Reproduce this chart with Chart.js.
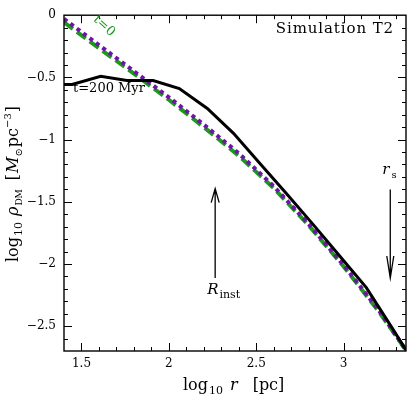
<!DOCTYPE html>
<html><head><meta charset="utf-8">
<script src="https://cdn.jsdelivr.net/npm/chart.js@4/dist/chart.umd.min.js"></script>
<style>html,body{margin:0;padding:0;background:#fff}canvas{display:block}</style>
</head><body><canvas id="c" width="415" height="415"></canvas>
<script>
// ---- data ----
const xTicks = [1.5, 2, 2.5, 3];
const yTicks = [0, -0.5, -1, -1.5, -2, -2.5];
const logRInit = [1.40, 1.60, 1.80, 2.00, 2.20, 2.40, 2.60, 2.80, 3.00, 3.20, 3.36];
const logRhoInitDashed = [-0.057, -0.265, -0.47, -0.68, -0.90, -1.13, -1.39, -1.69, -2.02, -2.38, -2.70];
const logRhoInitDotted = [-0.03, -0.24, -0.45, -0.66, -0.88, -1.11, -1.375, -1.68, -2.01, -2.37, -2.70];
const logR200 = [1.40, 1.446, 1.61, 1.76, 1.91, 2.06, 2.22, 2.37, 2.52, 2.67, 2.83, 2.98, 3.13, 3.28, 3.36];
const logRho200 = [-0.557, -0.557, -0.491, -0.525, -0.525, -0.59, -0.75, -0.95, -1.19, -1.43, -1.69, -1.94, -2.19, -2.52, -2.70];
const arrowRinst = [2.265, -2.113, -1.394]; // x, tail y, tip y
const arrowRs = [3.267, -1.402, -2.113];
const xRange = [1.4, 3.357];
const yRange = [-2.7, 0];

const SERIF = '"DejaVu Serif", serif';
const GREEN = '#1c9a1c';
const PURPLE = '#6e14a6';

function pts(xs, ys) { return xs.map((x, i) => ({x: x, y: ys[i]})); }
function fmt(v) { return v === 0 ? '0' : String(v).replace('-', '\u2212'); }

function rich(ctx, segs, x, y) {
  let cx = x;
  for (const s of segs) {
    ctx.font = s.f;
    cx += (s.pre || 0);
    ctx.fillText(s.t, cx, y + (s.dy || 0));
    cx += ctx.measureText(s.t).width;
  }
  return cx - x;
}

const decor = {
  id: 'decor',
  afterDatasetsDraw(chart) {
    const ctx = chart.ctx, a = chart.chartArea;
    const xs = chart.scales.x, ys = chart.scales.y;
    ctx.save();
    // frame
    ctx.strokeStyle = '#000'; ctx.lineWidth = 1.4;
    ctx.strokeRect(a.left, a.top, a.right - a.left, a.bottom - a.top);
    // ticks
    ctx.lineWidth = 1;
    ctx.beginPath();
    for (let k = 14; k <= 33; k++) {
      const v = k / 10; if (v <= xRange[0] || v >= xRange[1]) continue;
      const major = xTicks.some(t => Math.abs(t - v) < 1e-6);
      const L = major ? 8 : 4;
      const p = Math.round(xs.getPixelForValue(v)) + 0.5;
      ctx.moveTo(p, a.bottom); ctx.lineTo(p, a.bottom - L);
      ctx.moveTo(p, a.top); ctx.lineTo(p, a.top + L);
    }
    for (let k = -27; k <= 0; k++) {
      const v = k / 10; if (v <= yRange[0] || v >= yRange[1]) continue;
      const major = yTicks.some(t => Math.abs(t - v) < 1e-6);
      const L = major ? 8 : 4;
      const p = Math.round(ys.getPixelForValue(v)) + 0.5;
      ctx.moveTo(a.left, p); ctx.lineTo(a.left + L, p);
      ctx.moveTo(a.right, p); ctx.lineTo(a.right - L, p);
    }
    ctx.stroke();
    // arrows
    function arrow(x, y0, y1, hl, hw) {
      const px = xs.getPixelForValue(x), p0 = ys.getPixelForValue(y0), p1 = ys.getPixelForValue(y1);
      const d = p1 < p0 ? 1 : -1;
      ctx.beginPath();
      ctx.moveTo(px, p0); ctx.lineTo(px, p1);
      ctx.moveTo(px - hw, p1 + d * hl); ctx.lineTo(px, p1); ctx.lineTo(px + hw, p1 + d * hl);
      ctx.stroke();
    }
    ctx.lineWidth = 1.3;
    arrow(arrowRinst[0], arrowRinst[1], arrowRinst[2], 14, 4);
    arrow(arrowRs[0], arrowRs[1], arrowRs[2], 22, 3.5);
    // annotation texts
    ctx.fillStyle = '#000';
    ctx.textBaseline = 'alphabetic';
    ctx.textAlign = 'left';
    ctx.font = '15px ' + SERIF;
    ctx.letterSpacing = '0.9px';
    const simW = ctx.measureText('Simulation T2').width;
    ctx.fillText('Simulation T2', 394 - simW, 33);
    ctx.letterSpacing = '0px';
    ctx.font = '13px ' + SERIF;
    ctx.fillText('t=200 Myr', 73, 92);
    // R_inst label
    rich(ctx, [{t: 'R', f: 'italic 15px ' + SERIF}, {t: 'inst', f: '11px ' + SERIF, dy: 4, pre: 1}],
         xs.getPixelForValue(arrowRinst[0]) - 8, 294);
    // r_s label
    rich(ctx, [{t: 'r', f: 'italic 15px ' + SERIF}, {t: 's', f: '10px ' + SERIF, dy: 4, pre: 2}],
         xs.getPixelForValue(arrowRs[0]) - 8, 174);
    // t=0 label rotated
    ctx.save();
    ctx.fillStyle = GREEN;
    ctx.translate(104, 26);
    ctx.rotate(42 * Math.PI / 180);
    ctx.font = '13px ' + SERIF;
    ctx.textAlign = 'center'; ctx.textBaseline = 'middle';
    ctx.fillText('t=0', 0, 0);
    ctx.restore();
    // axis titles
    ctx.fillStyle = '#000';
    ctx.textAlign = 'left'; ctx.textBaseline = 'alphabetic';
    const xt = [
      {t: 'log', f: '16px ' + SERIF},
      {t: '10', f: '11px ' + SERIF, dy: 4, pre: 1},
      {t: 'r', f: 'italic 16px ' + SERIF, pre: 7},
      {t: '[pc]', f: '16px ' + SERIF, pre: 15}
    ];
    rich(ctx, xt, 183, 390);
    const yt = [
      {t: 'log', f: '16px ' + SERIF},
      {t: '10', f: '11px ' + SERIF, dy: 4, pre: 1},
      {t: '\u03C1', f: 'italic 16px ' + SERIF, pre: 6},
      {t: 'DM', f: '9px ' + SERIF, dy: 4, pre: 1},
      {t: '[', f: '16px ' + SERIF, pre: 9},
      {t: 'M', f: 'italic 16px ' + SERIF, pre: 1},
      {t: '\u2299', f: '10px ' + SERIF, dy: 4},
      {t: 'pc', f: '16px ' + SERIF, pre: 1},
      {t: '\u22123', f: '10px ' + SERIF, dy: -7},
      {t: ']', f: '16px ' + SERIF, pre: 1}
    ];
    ctx.save();
    ctx.translate(18, 262);
    ctx.rotate(-Math.PI / 2);
    rich(ctx, yt, 0, 0);
    ctx.restore();
    ctx.restore();
  }
};

new Chart(document.getElementById('c'), {
  type: 'line',
  data: {
    datasets: [
      {label: 't=0 dashed', data: pts(logRInit, logRhoInitDashed), borderColor: GREEN, borderWidth: 4,
       borderDash: [11, 5], pointRadius: 0, tension: 0, fill: false, clip: 0, order: 3},
      {label: 't=0 dotted', data: pts(logRInit, logRhoInitDotted), borderColor: PURPLE, borderWidth: 4,
       borderDash: [4, 4], pointRadius: 0, tension: 0, fill: false, clip: 0, order: 2},
      {label: 't=200 Myr', data: pts(logR200, logRho200), borderColor: '#000', borderWidth: 3,
       pointRadius: 0, tension: 0, fill: false, clip: 0, order: 1}
    ]
  },
  options: {
    responsive: false, animation: false, devicePixelRatio: 1,
    layout: {padding: {top: 10, right: 9, left: 0, bottom: 0}},
    plugins: {legend: {display: false}, tooltip: {enabled: false}},
    scales: {
      x: {type: 'linear', min: xRange[0], max: xRange[1],
          grid: {display: false, drawTicks: false}, border: {display: false},
          afterBuildTicks: s => { s.ticks = xTicks.map(v => ({value: v})); },
          afterFit: s => { s.height = 64; },
          ticks: {padding: 6, maxRotation: 0, autoSkip: false, color: '#000',
                  font: {family: 'DejaVu Serif', size: 12}, callback: v => fmt(v)}},
      y: {type: 'linear', min: yRange[0], max: yRange[1],
          grid: {display: false, drawTicks: false}, border: {display: false},
          afterBuildTicks: s => { s.ticks = yTicks.map(v => ({value: v})); },
          afterFit: s => { s.width = 64; },
          ticks: {padding: 8, autoSkip: false, color: '#000',
                  font: {family: 'DejaVu Serif', size: 12}, callback: v => fmt(v)}}
    }
  },
  plugins: [decor]
});
</script></body></html>
